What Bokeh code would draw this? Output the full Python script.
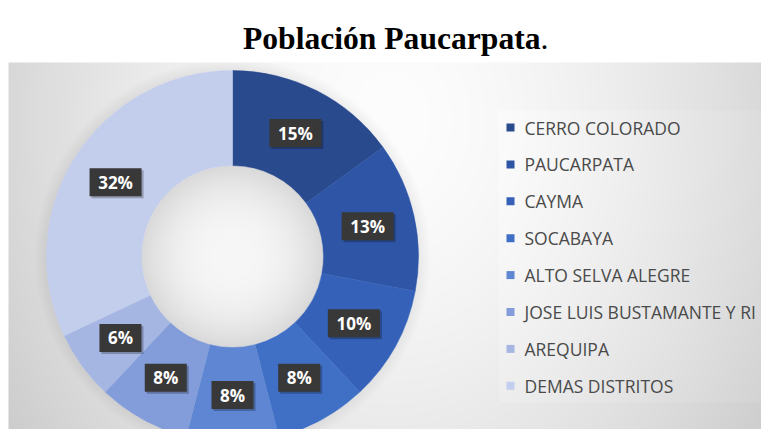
import numpy as np
from bokeh.plotting import figure
from bokeh.models import Range1d, ColumnDataSource
from bokeh.core.properties import value
from bokeh.embed import file_html
from bokeh.resources import INLINE

# ---- data ----
districts = ["CERRO COLORADO", "PAUCARPATA", "CAYMA", "SOCABAYA",
             "ALTO SELVA ALEGRE", "JOSE LUIS BUSTAMANTE Y RI", "AREQUIPA",
             "DEMAS DISTRITOS"]
percent = [15, 13, 10, 8, 8, 8, 6, 32]
title_text = "Población Paucarpata"

# ---- style ----
palette = ["#2A4A8E", "#2F56A6", "#3562B8", "#4070C6",
           "#5E86D2", "#829DDA", "#A6B6E2", "#C3CDEC"]

W, H = 761, 429
p = figure(width=W, height=H, x_range=Range1d(0, W), y_range=Range1d(0, H),
           output_backend="svg", toolbar_location=None, min_border=0)
p.axis.visible = False
p.grid.visible = False
p.outline_line_color = None
p.background_fill_color = "white"
p.border_fill_color = "white"


def sy(y):
    return H - y


CX, CY = 232, 256
R_OUT, R_IN = 186, 91

# ---- background gradient (chart area) ----
bw_, bh_ = 754, 375
xs = np.arange(bw_) + 8.5
ys = 437 - 0.5 - np.arange(bh_)
X, Y = np.meshgrid(xs, ys)
d = np.sqrt((X - 390) ** 2 + ((Y - 120) * 0.8) ** 2)
r = np.clip(d / 390, 0, 1.3)
v = 253 - 38 * r ** 1.6
dh = np.sqrt((X - CX) ** 2 + (Y - CY) ** 2)
hole = dh < R_IN
v = np.where(hole, 247 - 30 * (dh / R_IN) ** 2.5, v)
ring_sh = (dh > R_OUT) & (dh < R_OUT + 12)
v = np.where(ring_sh, v - 14 * (1 - (dh - R_OUT) / 12), v)
leg = (X > 498) & (Y > 110) & (Y < 402)
v = np.where(leg, v + 3, v)
v = np.clip(v, 0, 255).astype(np.uint8)
img = np.empty((bh_, bw_), dtype=np.uint32)
view = img.view(dtype=np.uint8).reshape((bh_, bw_, 4))
view[..., 0] = v
view[..., 1] = v
view[..., 2] = v
view[..., 3] = 255
p.image_rgba(image=[img], x=8, y=sy(437), dw=bw_, dh=bh_)

# ---- donut ----
frac = np.array(percent, dtype=float) / sum(percent)
cum = np.concatenate([[0.0], np.cumsum(frac)])
start = np.pi / 2 - cum[1:] * 2 * np.pi
end = np.pi / 2 - cum[:-1] * 2 * np.pi
src = ColumnDataSource(dict(start=start, end=end, color=palette))
p.annular_wedge(x=CX, y=sy(CY), inner_radius=R_IN, outer_radius=R_OUT,
                start_angle="start", end_angle="end", direction="anticlock",
                fill_color="color", line_color="color", line_width=0.5, source=src)

# ---- data labels ----
mid = (cum[:-1] + cum[1:]) / 2
ang = np.pi / 2 - mid * 2 * np.pi
RM = (R_IN + R_OUT) / 2
lx = CX + RM * np.cos(ang)
ly = sy(CY) + RM * np.sin(ang)
labels = [f"{v_}%" for v_ in percent]
bwid = [52 if len(t) > 2 else 42 for t in labels]
lsrc = ColumnDataSource(dict(x=lx, y=ly, xs=lx + 2, ys=ly - 2, t=labels, w=bwid))
p.rect(x="xs", y="ys", width="w", height=28, source=lsrc,
       fill_color="black", fill_alpha=0.25, line_color=None)
p.rect(x="x", y="y", width="w", height=28, source=lsrc,
       fill_color="#383838", line_color=None)
p.text(x="x", y="y", text="t", source=lsrc, text_align="center",
       text_baseline="middle", text_font=value("Open Sans"),
       text_font_style="bold", text_font_size="17px", text_color="white")

# ---- legend ----
rows = 127 + np.arange(len(districts)) * 36.9
gsrc = ColumnDataSource(dict(y=sy(rows), t=districts, c=palette))
p.rect(x=510, y="y", width=8, height=8, fill_color="c", line_color=None, source=gsrc)
p.text(x=524, y="y", text="t", source=gsrc, text_align="left",
       text_baseline="middle", text_font=value("Open Sans"),
       text_font_size="17.5px", text_color="#4a4a4a")

# ---- title ----
p.text(x=[540], y=[sy(38)], text=[title_text], text_align="right",
       text_baseline="alphabetic", text_font=value("Liberation Serif"),
       text_font_style="bold", text_font_size="31.6px", text_color="black")
p.text(x=[540], y=[sy(38)], text=["."], text_align="left",
       text_baseline="alphabetic", text_font=value("Liberation Serif"),
       text_font_size="31.6px", text_color="black")

open("out.html", "w").write(file_html(p, INLINE))
